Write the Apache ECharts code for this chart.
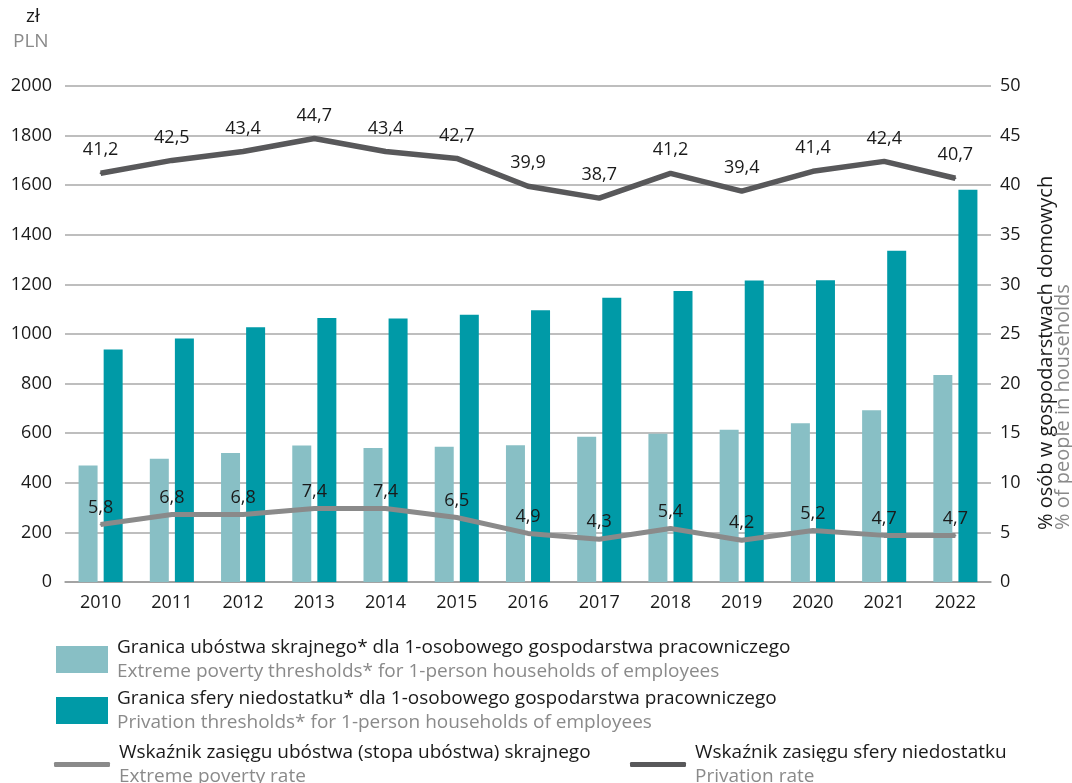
<!DOCTYPE html>
<html>
<head>
<meta charset="utf-8">
<title>Granice ubóstwa</title>
<script src="https://cdn.jsdelivr.net/npm/echarts@6/dist/echarts.min.js"></script>
<style>
    html, body { margin: 0; padding: 0; background: #fff; }
    #main { width: 1072px; height: 783px; }
</style>
</head>
<body>
<div id="main"></div>
<script>
    // dane
    var years = ['2010', '2011', '2012', '2013', '2014', '2015', '2016', '2017', '2018', '2019', '2020', '2021', '2022'];
    var extremeThreshold = [470, 497, 520, 550, 540, 545, 551, 586, 598, 614, 640, 693, 835];
    var privationThreshold = [938, 982, 1027, 1065, 1063, 1078, 1096, 1146, 1173, 1216, 1217, 1336, 1582];
    var extremeRate = [5.8, 6.8, 6.8, 7.4, 7.4, 6.5, 4.9, 4.3, 5.4, 4.2, 5.2, 4.7, 4.7];
    var privationRate = [41.2, 42.5, 43.4, 44.7, 43.4, 42.7, 39.9, 38.7, 41.2, 39.4, 41.4, 42.4, 40.7];

    var names = [
        'Granica ubóstwa skrajnego* dla 1-osobowego gospodarstwa pracowniczego',
        'Granica sfery niedostatku* dla 1-osobowego gospodarstwa pracowniczego',
        'Wskaźnik zasięgu ubóstwa (stopa ubóstwa) skrajnego',
        'Wskaźnik zasięgu sfery niedostatku'
    ];
    var namesEn = [
        'Extreme poverty thresholds* for 1-person households of employees',
        'Privation thresholds* for 1-person households of employees',
        'Extreme poverty rate',
        'Privation rate'
    ];

    var FONT = 'Open Sans';
    var BLACK = '#1a1a1a';
    var GREY = '#8a8a8a';
    var BIG = 19;

    function legendFor(i, left, top, w, h, icon) {
        return {
            data: [names[i]],
            left: left,
            top: top,
            icon: icon,
            itemWidth: w,
            itemHeight: h,
            selectedMode: false,
            formatter: function (name) {
                return '{a|' + name + '}\n{b|' + namesEn[names.indexOf(name)] + '}';
            },
            textStyle: {
                fontFamily: FONT,
                padding: [0, 0, 0, 4],
                rich: {
                    a: { fontFamily: FONT, fontSize: BIG, color: BLACK, lineHeight: 24 },
                    b: { fontFamily: FONT, fontSize: BIG, color: GREY, lineHeight: 24 }
                }
            }
        };
    }

    var comma = function (p) {
        return String(p.value).replace('.', ',');
    };

    var chart = echarts.init(document.getElementById('main'));

    chart.setOption({
        animation: false,
        textStyle: { fontFamily: FONT },
        grid: { left: 65, right: 81, top: 86, bottom: 201 },
        graphic: [
            { type: 'text', left: 26, top: 7, style: { text: 'zł', fontFamily: FONT, fontSize: BIG, fill: BLACK } },
            { type: 'text', left: 13, top: 32, style: { text: 'PLN', fontFamily: FONT, fontSize: BIG, fill: GREY } },
            {
                type: 'text', x: 1046, y: 530, rotation: Math.PI / 2,
                style: { text: '% osób w gospodarstwach domowych', fontFamily: FONT, fontSize: 20, fill: BLACK, align: 'left', verticalAlign: 'middle' }
            },
            {
                type: 'text', x: 1063, y: 530, rotation: Math.PI / 2,
                style: { text: '% of people in households', fontFamily: FONT, fontSize: 20, fill: GREY, align: 'left', verticalAlign: 'middle' }
            }
        ],
        legend: [
            legendFor(0, 51, 633, 52, 27, 'rect'),
            legendFor(1, 51, 684, 52, 27, 'rect'),
            legendFor(2, 49, 738, 56, 5, 'roundRect'),
            legendFor(3, 625, 738, 56, 5, 'roundRect')
        ],
        xAxis: {
            type: 'category',
            data: years,
            axisTick: { show: false },
            axisLine: { lineStyle: { color: '#9a9a9a', width: 1.5 } },
            axisLabel: { color: BLACK, fontSize: 18, margin: 12, fontFamily: FONT }
        },
        yAxis: [
            {
                type: 'value',
                min: 0, max: 2000, interval: 200,
                axisLabel: {
                    color: BLACK, fontSize: 18, margin: 13, fontFamily: FONT,
                    formatter: function (v) { return String(v); }
                },
                splitLine: { lineStyle: { color: '#a8a8a8', width: 1.5 } }
            },
            {
                type: 'value',
                min: 0, max: 50, interval: 5,
                axisLabel: { color: BLACK, fontSize: 18, margin: 9, fontFamily: FONT },
                splitLine: { show: false }
            }
        ],
        series: [
            {
                name: names[0],
                type: 'bar',
                data: extremeThreshold,
                barWidth: 19,
                barGap: '32%',
                itemStyle: { color: '#88bfc5' }
            },
            {
                name: names[1],
                type: 'bar',
                data: privationThreshold,
                barWidth: 19,
                itemStyle: { color: '#009aa7' }
            },
            {
                name: names[2],
                type: 'line',
                yAxisIndex: 1,
                data: extremeRate,
                symbol: 'circle',
                symbolSize: 2,
                lineStyle: { color: '#8a8a8a', width: 5 },
                itemStyle: { color: '#8a8a8a' },
                label: { show: true, position: 'top', distance: 7, color: BLACK, fontSize: 18, fontFamily: FONT, formatter: comma }
            },
            {
                name: names[3],
                type: 'line',
                yAxisIndex: 1,
                data: privationRate,
                symbol: 'circle',
                symbolSize: 2,
                lineStyle: { color: '#58585a', width: 5.5 },
                itemStyle: { color: '#58585a' },
                label: { show: true, position: 'top', distance: 13, color: BLACK, fontSize: 18, fontFamily: FONT, formatter: comma }
            }
        ]
    });
</script>
</body>
</html>
